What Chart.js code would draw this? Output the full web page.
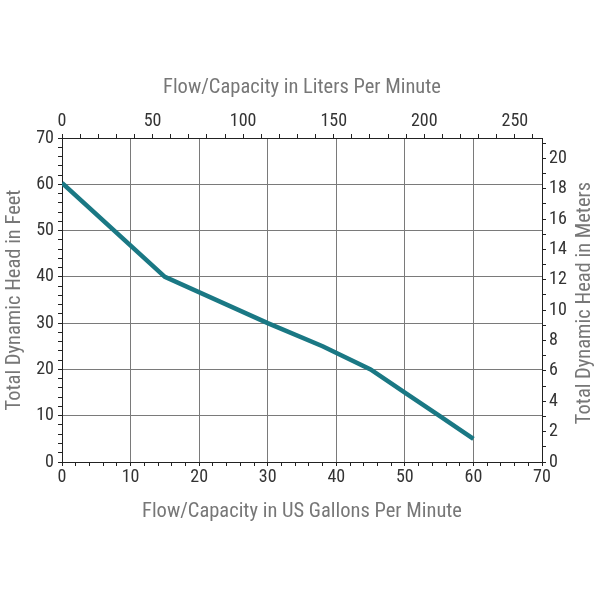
<!DOCTYPE html>
<html>
<head>
<meta charset="utf-8">
<script src="https://cdn.jsdelivr.net/npm/chart.js@4/dist/chart.umd.min.js"></script>
<style>
html,body{margin:0;padding:0;background:#fff;}
#wrap{width:600px;height:600px;position:relative;}
</style>
</head>
<body>
<div id="wrap"><canvas id="c" width="600" height="600"></canvas></div>
<script>
// Data
const flowGpm = [0, 15, 30, 38, 45, 50, 55, 60];
const headFeet = [60.3, 40, 30, 25, 20, 15, 10, 5];

// Axis ranges / tick labels
const gpmMax = 70;
const feetMax = 70;
const litersPerGallon = 3.78541;
const metersPerFoot = 0.3048;
const bottomLabels = [0, 10, 20, 30, 40, 50, 60, 70];
const leftLabels = [0, 10, 20, 30, 40, 50, 60, 70];
const topLabels = [0, 50, 100, 150, 200, 250];
const rightLabels = [0, 2, 4, 6, 8, 10, 12, 14, 16, 18, 20];
const rightTitle = 'Total Dynamic Head in Meters';

const fam = "'Roboto Condensed', 'Liberation Sans Narrow', 'DejaVu Sans Condensed', sans-serif";
const tickFont = {family: fam, size: 18};
const titleFont = {family: fam, size: 20.5};
const tickColor = '#333';
const titleColor = '#777';
const gridColor = '#7a7a7a';

function stepTicks(max, step) {
  const t = [];
  for (let v = 0; v <= max + 1e-9; v += step) t.push({value: +v.toFixed(6)});
  return t;
}

const pts = flowGpm.map((x, i) => ({x: x, y: headFeet[i]}));

// Right-hand axis title, reading bottom-to-top like the left one
const rightTitlePlugin = {
  id: 'rightTitle',
  afterDraw(chart) {
    const s = chart.scales.y2;
    const ctx = chart.ctx;
    ctx.save();
    ctx.translate(585, (s.top + s.bottom) / 2 + 3);
    ctx.rotate(-Math.PI / 2);
    ctx.font = titleFont.size + 'px ' + fam;
    ctx.fillStyle = titleColor;
    ctx.textAlign = 'center';
    ctx.textBaseline = 'middle';
    ctx.fillText(rightTitle, 0, 0);
    ctx.restore();
  }
};

new Chart(document.getElementById('c'), {
  type: 'line',
  data: {
    datasets: [{
      data: pts,
      borderColor: '#1a7884',
      borderWidth: 4.5,
      pointRadius: 0,
      tension: 0,
      xAxisID: 'x',
      yAxisID: 'y'
    }]
  },
  options: {
    responsive: false,
    animation: false,
    devicePixelRatio: 1,
    layout: {padding: {top: 76, bottom: 76, left: 3, right: 4}},
    plugins: {legend: {display: false}, tooltip: {enabled: false}},
    scales: {
      x: {
        type: 'linear', position: 'bottom', min: 0, max: gpmMax,
        afterBuildTicks: s => { s.ticks = stepTicks(gpmMax, 2); },
        afterFit: s => { s.height = 62; },
        ticks: {
          autoSkip: false, maxRotation: 0, padding: 1, color: tickColor, font: tickFont,
          callback: v => bottomLabels.includes(v) ? String(v) : ''
        },
        grid: {
          color: c => (c.tick && c.tick.value % 10 === 0 && c.tick.value !== 0 && c.tick.value !== gpmMax) ? gridColor : 'rgba(0,0,0,0)',
          tickColor: '#222', tickLength: 4, lineWidth: 1
        },
        border: {color: '#222', width: 1},
        title: {display: true, text: 'Flow/Capacity in US Gallons Per Minute', color: titleColor, font: titleFont, padding: {top: 4, bottom: 0}}
      },
      x2: {
        type: 'linear', position: 'top', min: 0, max: gpmMax * litersPerGallon,
        afterBuildTicks: s => { s.ticks = stepTicks(260, 10); },
        afterFit: s => { s.height = 62; },
        ticks: {
          autoSkip: false, maxRotation: 0, padding: 2, color: tickColor, font: tickFont,
          callback: v => topLabels.includes(v) ? String(v) : ''
        },
        grid: {drawOnChartArea: false, tickColor: '#222', tickLength: 4},
        border: {color: '#222', width: 1},
        title: {display: true, text: 'Flow/Capacity in Liters Per Minute', color: titleColor, font: titleFont, padding: {top: 0, bottom: 6}}
      },
      y: {
        type: 'linear', position: 'left', min: 0, max: feetMax,
        afterBuildTicks: s => { s.ticks = stepTicks(feetMax, 2); },
        afterFit: s => { s.width = 59; },
        ticks: {
          autoSkip: false, padding: 4, color: tickColor, font: tickFont,
          callback: v => leftLabels.includes(v) ? String(v) : ''
        },
        grid: {
          color: c => (c.tick && c.tick.value % 10 === 0 && c.tick.value !== 0 && c.tick.value !== feetMax) ? gridColor : 'rgba(0,0,0,0)',
          tickColor: '#222', tickLength: 4, lineWidth: 1
        },
        border: {color: '#222', width: 1},
        title: {display: true, text: 'Total Dynamic Head in Feet', color: titleColor, font: titleFont, padding: {top: 0, bottom: 2}}
      },
      y2: {
        type: 'linear', position: 'right', min: 0, max: feetMax * metersPerFoot,
        afterBuildTicks: s => { s.ticks = stepTicks(21, 1); },
        afterFit: s => { s.width = 54; },
        ticks: {
          autoSkip: false, padding: 3, color: tickColor, font: tickFont,
          callback: v => rightLabels.includes(v) ? String(v) : ''
        },
        grid: {drawOnChartArea: false, tickColor: '#222', tickLength: 4},
        border: {color: '#222', width: 1},
        title: {display: false}
      }
    }
  },
  plugins: [rightTitlePlugin]
});
</script>
</body>
</html>
